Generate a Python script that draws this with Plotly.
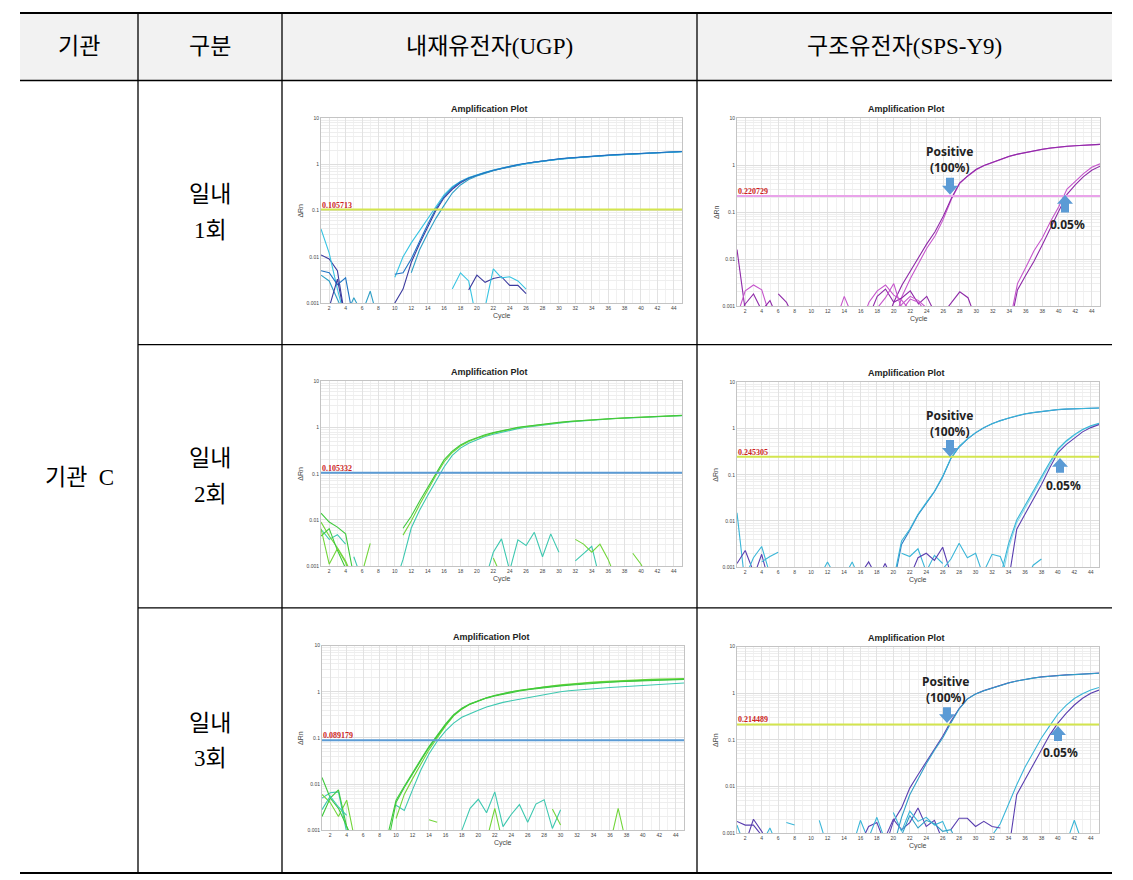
import math
import plotly.graph_objects as go

W, H = 1133, 880          # target window in pixels
OFF = 8                   # browser body margin around the plot div
FW, FH = W - OFF, H - OFF # figure size so that page content fits the window
N = None
CYCLES = list(range(1, 46))

# ---------------- Row 1 : UGP ----------------
r1u_navy = [0.011, 0.009, 0.005, 0.0004, N, N, N, N, 0.0004, 0.001, 0.002, 0.0075, 0.019, 0.045, 0.1, 0.19, 0.29, 0.4, 0.5, 0.58,
            0.66, 0.74, 0.82, 0.9, 0.98, 1.05, 1.12, 1.19, 1.25, 1.31, 1.36, 1.41, 1.45, 1.5, 1.54, 1.58, 1.62, 1.66, 1.69, 1.73,
            1.76, 1.8, 1.83, 1.86, 1.9]
r1u_cyan = [0.04, 0.012, 0.002, 0.0004, N, N, N, N, N, 0.0036, 0.01, 0.02, 0.037, 0.068, 0.125, 0.22, 0.33, 0.43, 0.52, 0.6,
            0.68, 0.76, 0.84, 0.91, 0.98, 1.05, 1.12, 1.18, 1.24, 1.3, 1.35, 1.4, 1.45, 1.49, 1.53, 1.57, 1.61, 1.65, 1.68, 1.72,
            1.75, 1.79, 1.82, 1.85, 1.88]
r1u_blue = [0.005, 0.0045, 0.0025, 0.0035, 0.0004, N, N, N, N, 0.0042, 0.0045, 0.009, 0.022, 0.05, 0.11, 0.2, 0.31, 0.42, 0.51, 0.59,
            0.67, 0.75, 0.83, 0.91, 0.99, 1.06, 1.13, 1.2, 1.26, 1.32, 1.37, 1.42, 1.46, 1.51, 1.55, 1.59, 1.63, 1.67, 1.7, 1.74,
            1.77, 1.81, 1.84, 1.87, 1.91]
r1u_teal = [0.004, 0.003, 0.0012, 0.0005, 0.0013, 0.0006, 0.0018, 0.0004, N, N, N, 0.0045, 0.014, 0.032, 0.068, 0.13, 0.24, 0.36, 0.47, 0.56,
            0.65, 0.73, 0.81, 0.89, 0.97, 1.04, 1.11, 1.18, 1.24, 1.3, 1.35, 1.4, 1.45, 1.49, 1.53, 1.57, 1.61, 1.65, 1.68, 1.72,
            1.76, 1.79, 1.83, 1.86, 1.89]
r1u_n1_x = [2, 3, 4];            r1u_n1_y = [0.0008, 0.0033, 0.0004]
r1u_n2_x = [17, 18, 19, 20];     r1u_n2_y = [0.002, 0.0045, 0.003, 0.0004]
r1u_n3_x = [19, 20, 21, 22, 23, 24, 25, 26]; r1u_n3_y = [0.0019, 0.004, 0.0028, 0.0034, 0.0037, 0.0024, 0.0024, 0.0016]
r1u_n4_x = [21, 22, 23, 24, 25, 26];         r1u_n4_y = [0.0008, 0.0055, 0.0035, 0.0037, 0.003, 0.002]

# ---------------- Row 1 : SPS-Y9 ----------------
r1s_pos_a = [N] * 18 + [0.0004, 0.0012, 0.0028, 0.0055, 0.011, 0.021, 0.038, 0.082, 0.2, 0.42, 0.6, 0.82, 1.0, 1.17, 1.36, 1.55,
                        1.72, 1.88, 2.03, 2.18, 2.32, 2.45, 2.53, 2.6, 2.67, 2.73, 2.78]
r1s_pos_b = [N] * 19 + [0.0004, 0.0016, 0.0038, 0.008, 0.017, 0.031, 0.07, 0.19, 0.41, 0.59, 0.8, 0.99, 1.16, 1.35, 1.54,
                        1.71, 1.87, 2.02, 2.17, 2.31, 2.44, 2.52, 2.59, 2.66, 2.72, 2.77]
r1s_low_a = [N] * 33 + [0.0004, 0.003, 0.0066, 0.015, 0.028, 0.063, 0.13, 0.31, 0.45, 0.66, 0.9, 1.07]
r1s_low_b = [N] * 33 + [0.0003, 0.0022, 0.0045, 0.009, 0.02, 0.045, 0.1, 0.24, 0.38, 0.57, 0.78, 0.95]
r1s_n1_x = [1, 2];                r1s_n1_y = [0.016, 0.0008]
r1s_n2_x = [1, 2, 3, 4, 5];       r1s_n2_y = [0.0006, 0.0021, 0.0028, 0.0022, 0.0006]
r1s_n3_x = [1, 2, 3, 4, 5, 6];    r1s_n3_y = [0.0005, 0.0011, 0.0018, 0.0008, 0.0013, 0.0005]
r1s_n4_x = [6, 7, 8];             r1s_n4_y = [0.0018, 0.0012, 0.0005]
r1s_n5_x = [13, 14, 15];          r1s_n5_y = [0.0005, 0.0016, 0.0006]
r1s_n6_x = [16, 17, 18, 19, 20, 21, 22]; r1s_n6_y = [0.0004, 0.0012, 0.0021, 0.0028, 0.0017, 0.0013, 0.0008]
r1s_n7_x = [17, 18, 19, 20, 21, 22, 23, 24, 25]; r1s_n7_y = [0.0006, 0.0016, 0.0023, 0.0012, 0.0015, 0.0021, 0.0011, 0.0016, 0.0007]
r1s_n8_x = [18, 19, 20, 21, 22, 23, 24]; r1s_n8_y = [0.0009, 0.0015, 0.003, 0.0008, 0.0014, 0.0012, 0.0007]
r1s_n9_x = [26, 27, 28, 29, 30];  r1s_n9_y = [0.0007, 0.0012, 0.002, 0.0015, 0.0005]
r1s_n10_x = [20, 21, 22, 23, 24, 25]; r1s_n10_y = [0.0006, 0.0011, 0.0016, 0.0013, 0.0009, 0.0005]

# ---------------- Row 2 : UGP ----------------
r2u_g1 = [0.014, 0.009, 0.007, 0.005, 0.0006, N, N, N, N, N, 0.0066, 0.012, 0.025, 0.05, 0.1, 0.2, 0.31, 0.42, 0.52, 0.61,
          0.7, 0.78, 0.86, 0.94, 1.01, 1.07, 1.13, 1.19, 1.25, 1.3, 1.35, 1.4, 1.44, 1.48, 1.52, 1.56, 1.6, 1.63, 1.66, 1.69,
          1.72, 1.75, 1.78, 1.81, 1.84]
r2u_g2 = [0.009, 0.0045, 0.0025, 0.0013, 0.0005, N, N, N, N, N, 0.0047, 0.0095, 0.021, 0.045, 0.092, 0.18, 0.29, 0.4, 0.5, 0.59,
          0.68, 0.76, 0.84, 0.92, 0.99, 1.05, 1.11, 1.17, 1.23, 1.29, 1.34, 1.39, 1.43, 1.47, 1.51, 1.55, 1.59, 1.62, 1.65, 1.68,
          1.71, 1.74, 1.77, 1.8, 1.83]
r2u_cyan = [0.0063, 0.0038, 0.0048, 0.003, N, N, N, N, N, 0.0004, 0.0014, 0.0067, 0.016, 0.034, 0.07, 0.14, 0.25, 0.36, 0.46, 0.55,
            0.64, 0.72, 0.8, 0.88, 0.95, 1.02, 1.08, 1.14, 1.2, 1.26, 1.31, 1.36, 1.41, 1.45, 1.49, 1.53, 1.57, 1.6, 1.64, 1.67,
            1.7, 1.73, 1.76, 1.79, 1.82]
r2u_n1_x = [1, 2, 3, 4];          r2u_n1_y = [0.0045, 0.0065, 0.0022, 0.0009]
r2u_n2_x = [1, 2, 3, 4, 5];       r2u_n2_y = [0.0065, 0.0011, 0.0024, 0.0012, 0.0004]
r2u_n3_x = [5, 6];                r2u_n3_y = [0.0016, 0.0005]
r2u_n4_x = [6, 7];                r2u_n4_y = [0.0007, 0.0031]
r2u_n5_x = [21, 22, 23, 24, 25, 26, 27, 28, 29, 30]; r2u_n5_y = [0.0005, 0.002, 0.0039, 0.0008, 0.0037, 0.0028, 0.0054, 0.0016, 0.005, 0.002]
r2u_n6_x = [22, 23];              r2u_n6_y = [0.0015, 0.0006]
r2u_n7_x = [32, 33, 34, 35];      r2u_n7_y = [0.0013, 0.0019, 0.0027, 0.0005]
r2u_n8_x = [32, 33, 34, 35, 36, 37]; r2u_n8_y = [0.0038, 0.003, 0.002, 0.003, 0.0014, 0.0005]
r2u_n9_x = [39, 40, 41];          r2u_n9_y = [0.0019, 0.0011, 0.0005]

# ---------------- Row 2 : SPS-Y9 ----------------
r2s_pos_cyan = [N] * 19 + [0.0005, 0.0037, 0.0066, 0.014, 0.025, 0.044, 0.093, 0.23, 0.41, 0.6, 0.82, 1.05, 1.28, 1.5, 1.69,
                           1.9, 2.1, 2.23, 2.35, 2.48, 2.6, 2.65, 2.7, 2.74, 2.77, 2.8]
r2s_pos_blue = [N] * 19 + [0.0004, 0.0031, 0.0063, 0.0135, 0.024, 0.043, 0.09, 0.225, 0.4, 0.59, 0.81, 1.04, 1.27, 1.49, 1.68,
                           1.89, 2.08, 2.22, 2.34, 2.47, 2.58, 2.64, 2.69, 2.73, 2.76, 2.79]
r2s_low_cyan = [N] * 32 + [0.0006, 0.0032, 0.0105, 0.021, 0.043, 0.09, 0.185, 0.36, 0.54, 0.74, 0.96, 1.15, 1.3]
r2s_low_light = [N] * 32 + [0.0004, 0.0026, 0.0092, 0.019, 0.04, 0.085, 0.175, 0.34, 0.52, 0.72, 0.94, 1.13, 1.28]
r2s_low_navy = [N] * 33 + [0.0005, 0.0066, 0.014, 0.029, 0.061, 0.14, 0.3, 0.45, 0.63, 0.85, 1.05, 1.22]
r2s_n1_x = [1, 2];                r2s_n1_y = [0.015, 0.0004]
r2s_n2_x = [1, 2, 3];             r2s_n2_y = [0.0012, 0.0023, 0.0008]
r2s_n3_x = [2, 3, 4, 5];          r2s_n3_y = [0.0006, 0.0016, 0.0028, 0.0007]
r2s_n4_x = [3, 4, 5];             r2s_n4_y = [0.0006, 0.0019, 0.0004]
r2s_n5_x = [4, 5, 6];             r2s_n5_y = [0.0013, 0.0017, 0.0021]
r2s_n6_x = [11, 12, 13];          r2s_n6_y = [0.0006, 0.0013, 0.0006]
r2s_n7_x = [14, 15, 16];          r2s_n7_y = [0.0006, 0.0013, 0.0005]
r2s_n8_x = [16, 17, 18];          r2s_n8_y = [0.0007, 0.0013, 0.0006]
r2s_n9_x = [18, 19, 20];          r2s_n9_y = [0.0005, 0.0012, 0.0005]
r2s_n10_x = [21, 22, 23, 24, 25, 26]; r2s_n10_y = [0.002, 0.0017, 0.0025, 0.0008, 0.0018, 0.0012]
r2s_n11_x = [22, 23, 24, 25, 26, 27]; r2s_n11_y = [0.0006, 0.0016, 0.002, 0.0014, 0.0027, 0.0007]
r2s_n12_x = [26, 27, 28, 29, 30, 31]; r2s_n12_y = [0.0009, 0.0015, 0.0033, 0.0016, 0.002, 0.0006]
r2s_n13_x = [31, 32, 33, 34];     r2s_n13_y = [0.0008, 0.0019, 0.0017, 0.0006]
r2s_n14_x = [36, 37, 38];         r2s_n14_y = [0.0005, 0.0011, 0.0015]

# ---------------- Row 3 : UGP ----------------
r3u_g1 = [0.014, 0.005, 0.003, 0.0012, 0.0005, N, N, N, 0.0008, 0.0045, 0.009, 0.018, 0.034, 0.065, 0.115, 0.2, 0.32, 0.44, 0.55, 0.65,
          0.74, 0.83, 0.92, 1.0, 1.07, 1.14, 1.2, 1.26, 1.32, 1.38, 1.43, 1.48, 1.53, 1.57, 1.61, 1.65, 1.68, 1.71, 1.74, 1.77,
          1.8, 1.82, 1.84, 1.86, 1.87]
r3u_g2 = [0.002, 0.005, 0.0075, 0.0012, 0.0004, N, N, N, 0.0005, 0.004, 0.0085, 0.017, 0.032, 0.062, 0.11, 0.19, 0.31, 0.43, 0.54, 0.64,
          0.73, 0.81, 0.89, 0.97, 1.04, 1.11, 1.17, 1.23, 1.29, 1.34, 1.39, 1.44, 1.49, 1.53, 1.57, 1.61, 1.65, 1.68, 1.71, 1.74,
          1.77, 1.8, 1.82, 1.84, 1.86]
r3u_g3 = [0.006, 0.004, 0.002, 0.0045, 0.0006, N, N, N, N, 0.0018, 0.006, 0.013, 0.027, 0.055, 0.1, 0.18, 0.3, 0.42, 0.54, 0.64,
          0.74, 0.83, 0.92, 1.0, 1.08, 1.15, 1.22, 1.29, 1.35, 1.41, 1.47, 1.52, 1.57, 1.62, 1.66, 1.7, 1.74, 1.77, 1.8, 1.83,
          1.86, 1.88, 1.9, 1.92, 1.94]
r3u_cyan = [0.005, 0.0065, 0.0068, 0.0009, N, N, N, N, N, 0.0035, 0.0027, 0.0075, 0.02, 0.045, 0.085, 0.14, 0.21, 0.28, 0.34, 0.4,
            0.47, 0.53, 0.59, 0.64, 0.69, 0.74, 0.8, 0.87, 0.93, 1.0, 1.05, 1.09, 1.14, 1.18, 1.21, 1.24, 1.27, 1.3, 1.33, 1.36,
            1.39, 1.42, 1.46, 1.5, 1.55]
r3u_n1_x = [17, 18, 19, 20, 21, 22, 23, 24, 25, 26, 27, 28, 29, 30]
r3u_n1_y = [0.0005, 0.001, 0.003, 0.0047, 0.0024, 0.0068, 0.0012, 0.0022, 0.0036, 0.0015, 0.0037, 0.0046, 0.0011, 0.0028]
r3u_n2_x = [21, 22, 23];          r3u_n2_y = [0.0006, 0.003, 0.0005]
r3u_n3_x = [29, 30];              r3u_n3_y = [0.0029, 0.0013]
r3u_n4_x = [36, 37, 38];          r3u_n4_y = [0.0005, 0.003, 0.0005]
r3u_n5_x = [14, 15];              r3u_n5_y = [0.0017, 0.0015]
r3u_n6_x = [1, 2, 3, 4];          r3u_n6_y = [0.0028, 0.0055, 0.0032, 0.0021]

# ---------------- Row 3 : SPS-Y9 ----------------
r3s_pos_navy = [N] * 18 + [0.0005, 0.0018, 0.0035, 0.0093, 0.018, 0.034, 0.066, 0.12, 0.25, 0.47, 0.76, 0.97, 1.14, 1.3, 1.48,
                           1.67, 1.84, 2.0, 2.12, 2.25, 2.35, 2.44, 2.48, 2.52, 2.58, 2.64, 2.7]
r3s_pos_teal = [N] * 19 + [0.0005, 0.0022, 0.0067, 0.015, 0.031, 0.06, 0.11, 0.23, 0.46, 0.75, 0.96, 1.13, 1.29, 1.47, 1.66,
                           1.83, 1.99, 2.11, 2.24, 2.34, 2.43, 2.47, 2.51, 2.57, 2.63, 2.69]
r3s_low_cyan = [N] * 31 + [0.0009, 0.0016, 0.0042, 0.011, 0.026, 0.055, 0.11, 0.2, 0.36, 0.55, 0.77, 0.98, 1.18, 1.33]
r3s_low_navy = [N] * 33 + [0.0004, 0.0067, 0.014, 0.029, 0.061, 0.127, 0.23, 0.37, 0.56, 0.78, 1.0, 1.17]
r3s_n1_x = [1, 2, 3, 4, 5];       r3s_n1_y = [0.0018, 0.0015, 0.0015, 0.0009, 0.0004]
r3s_n2_x = [2, 3, 4, 5];          r3s_n2_y = [0.0006, 0.002, 0.0011, 0.0005]
r3s_n3_x = [1, 2];                r3s_n3_y = [0.0015, 0.0005]
r3s_n4_x = [4, 5, 6];             r3s_n4_y = [0.0006, 0.0013, 0.0005]
r3s_n5_x = [7, 8];                r3s_n5_y = [0.0017, 0.0015]
r3s_n6_x = [11, 12];              r3s_n6_y = [0.0019, 0.0005]
r3s_n7_x = [15, 16, 17];          r3s_n7_y = [0.0005, 0.0019, 0.0007]
r3s_n8_x = [16, 17, 18, 19];      r3s_n8_y = [0.0006, 0.0014, 0.0017, 0.0006]
r3s_n9_x = [17, 18, 19];          r3s_n9_y = [0.0008, 0.0022, 0.0007]
r3s_n10_x = [19, 20, 21, 22, 23, 24, 25, 26]; r3s_n10_y = [0.0008, 0.002, 0.0012, 0.0017, 0.0035, 0.0014, 0.0019, 0.0007]
r3s_n11_x = [20, 21, 22, 23, 24, 25, 26, 27]; r3s_n11_y = [0.0028, 0.0011, 0.003, 0.0018, 0.0022, 0.0015, 0.0018, 0.0007]
r3s_n12_x = [27, 28, 29, 30, 31, 32, 33];     r3s_n12_y = [0.0012, 0.0021, 0.0021, 0.0014, 0.0018, 0.0014, 0.0013]
r3s_n13_x = [41, 42, 43];         r3s_n13_y = [0.0006, 0.0019, 0.0006]
r3s_n14_x = [21, 22, 23, 24, 25, 26, 27, 28]; r3s_n14_y = [0.0009, 0.0024, 0.0013, 0.0019, 0.0016, 0.0011, 0.0012, 0.0005]

THRESHOLDS = [0.105713, 0.220729, 0.105332, 0.245305, 0.089179, 0.214489]
THRESHOLD_TEXT = ["0.105713", "0.220729", "0.105332", "0.245305", "0.089179", "0.214489"]

HEADERS = ["기관", "구분", "내재유전자(UGP)", "구조유전자(SPS-Y9)"]
ORG_LABEL = "기관  C"
ROW_LINE1 = ["일내", "일내", "일내"]
ROW_LINE2 = ["1회", "2회", "3회"]
X_TICKS = list(range(2, 46, 2))
Y_TICKS = [0.001, 0.01, 0.1, 1, 10]
Y_TICK_TEXT = ["0.001", "0.01", "0.1", "1", "10"]

for arr in [r1u_navy, r1u_cyan, r1u_blue, r1u_teal, r1s_pos_a, r1s_pos_b, r1s_low_a, r1s_low_b,
            r2u_g1, r2u_g2, r2u_cyan, r2s_pos_cyan, r2s_pos_blue, r2s_low_cyan, r2s_low_light, r2s_low_navy,
            r3u_g1, r3u_g2, r3u_g3, r3u_cyan, r3s_pos_navy, r3s_pos_teal, r3s_low_cyan, r3s_low_navy]:
    assert len(arr) == 45, len(arr)

# ---------------- styling / layout ----------------
NAVY = "#3b3a9e"; BLUE = "#1f74c4"; CYAN = "#38c4e2"; TEAL = "#2f9fc6"
PURPLE = "#8f2aa8"; MAGENTA = "#c656cc"
GREEN = "#3fc93c"; LGREEN = "#72d53a"; GCYAN = "#3ec8b0"
SCYAN = "#3ab6d8"; SBLUE = "#2f7cc4"; SLIGHT = "#86d8ea"; SNAVY = "#5a3fb0"
YG = "#d3e54e"; PINK = "#e9a3ea"; TBLUE = "#5b9bd5"

panels = [
    dict(box=(321, 116, 682, 302), thr_color=YG,
         curves=[(CYCLES, r1u_navy, NAVY), (CYCLES, r1u_teal, TEAL), (CYCLES, r1u_cyan, CYAN), (CYCLES, r1u_blue, BLUE),
                 (r1u_n1_x, r1u_n1_y, NAVY), (r1u_n2_x, r1u_n2_y, CYAN), (r1u_n3_x, r1u_n3_y, NAVY), (r1u_n4_x, r1u_n4_y, CYAN)]),
    dict(box=(737, 116, 1100, 305), thr_color=PINK,
         curves=[(CYCLES, r1s_pos_b, MAGENTA), (CYCLES, r1s_pos_a, PURPLE), (CYCLES, r1s_low_a, MAGENTA), (CYCLES, r1s_low_b, PURPLE),
                 (r1s_n1_x, r1s_n1_y, PURPLE), (r1s_n2_x, r1s_n2_y, MAGENTA), (r1s_n3_x, r1s_n3_y, PURPLE),
                 (r1s_n4_x, r1s_n4_y, PURPLE), (r1s_n5_x, r1s_n5_y, MAGENTA), (r1s_n6_x, r1s_n6_y, MAGENTA),
                 (r1s_n7_x, r1s_n7_y, PURPLE), (r1s_n8_x, r1s_n8_y, MAGENTA), (r1s_n9_x, r1s_n9_y, PURPLE),
                 (r1s_n10_x, r1s_n10_y, MAGENTA)]),
    dict(box=(321, 381, 682, 567), thr_color=TBLUE,
         curves=[(CYCLES, r2u_cyan, GCYAN), (CYCLES, r2u_g2, LGREEN), (CYCLES, r2u_g1, GREEN),
                 (r2u_n1_x, r2u_n1_y, GREEN), (r2u_n2_x, r2u_n2_y, LGREEN), (r2u_n3_x, r2u_n3_y, GCYAN),
                 (r2u_n4_x, r2u_n4_y, LGREEN), (r2u_n5_x, r2u_n5_y, GCYAN), (r2u_n6_x, r2u_n6_y, LGREEN),
                 (r2u_n7_x, r2u_n7_y, GCYAN), (r2u_n8_x, r2u_n8_y, LGREEN), (r2u_n9_x, r2u_n9_y, LGREEN)]),
    dict(box=(737, 382, 1099, 568), thr_color=YG,
         curves=[(CYCLES, r2s_pos_blue, SBLUE), (CYCLES, r2s_pos_cyan, SCYAN), (CYCLES, r2s_low_light, SLIGHT),
                 (CYCLES, r2s_low_cyan, SCYAN), (CYCLES, r2s_low_navy, SNAVY),
                 (r2s_n1_x, r2s_n1_y, SCYAN), (r2s_n2_x, r2s_n2_y, SNAVY), (r2s_n3_x, r2s_n3_y, SCYAN),
                 (r2s_n4_x, r2s_n4_y, SNAVY), (r2s_n5_x, r2s_n5_y, SCYAN), (r2s_n6_x, r2s_n6_y, SCYAN),
                 (r2s_n7_x, r2s_n7_y, SCYAN), (r2s_n8_x, r2s_n8_y, SNAVY), (r2s_n9_x, r2s_n9_y, SNAVY),
                 (r2s_n10_x, r2s_n10_y, SCYAN), (r2s_n11_x, r2s_n11_y, SNAVY), (r2s_n12_x, r2s_n12_y, SCYAN),
                 (r2s_n13_x, r2s_n13_y, SCYAN), (r2s_n14_x, r2s_n14_y, SCYAN)]),
    dict(box=(322, 647, 684, 833), thr_color=TBLUE,
         curves=[(CYCLES, r3u_cyan, GCYAN), (CYCLES, r3u_g3, LGREEN), (CYCLES, r3u_g2, GREEN), (CYCLES, r3u_g1, GREEN),
                 (r3u_n1_x, r3u_n1_y, GCYAN), (r3u_n2_x, r3u_n2_y, LGREEN), (r3u_n3_x, r3u_n3_y, LGREEN),
                 (r3u_n4_x, r3u_n4_y, LGREEN), (r3u_n5_x, r3u_n5_y, LGREEN), (r3u_n6_x, r3u_n6_y, GCYAN)]),
    dict(box=(737, 648, 1099, 836), thr_color=YG,
         curves=[(CYCLES, r3s_pos_navy, SNAVY), (CYCLES, r3s_pos_teal, TEAL), (CYCLES, r3s_low_navy, SNAVY),
                 (CYCLES, r3s_low_cyan, SCYAN),
                 (r3s_n1_x, r3s_n1_y, SNAVY), (r3s_n2_x, r3s_n2_y, SNAVY), (r3s_n3_x, r3s_n3_y, SCYAN),
                 (r3s_n4_x, r3s_n4_y, SCYAN), (r3s_n5_x, r3s_n5_y, SCYAN), (r3s_n6_x, r3s_n6_y, SCYAN),
                 (r3s_n7_x, r3s_n7_y, SCYAN), (r3s_n8_x, r3s_n8_y, SNAVY), (r3s_n9_x, r3s_n9_y, SCYAN),
                 (r3s_n10_x, r3s_n10_y, SNAVY), (r3s_n11_x, r3s_n11_y, SCYAN), (r3s_n12_x, r3s_n12_y, SNAVY),
                 (r3s_n13_x, r3s_n13_y, SCYAN), (r3s_n14_x, r3s_n14_y, TEAL)]),
]


def px(x):
    return (x - OFF) / FW


def py(y):
    return 1 - (y - OFF) / FH


fig = go.Figure()
layout = dict(width=FW, height=FH, margin=dict(l=0, r=0, t=0, b=0), paper_bgcolor="white",
              plot_bgcolor="white", showlegend=False)
annotations = []
shapes = []

SANS = "Liberation Sans, Arial, sans-serif"
TABLE_FONT = "Liberation Serif, Noto Sans CJK KR, serif"
MINOR_Y = [k * 10 ** e for e in range(-3, 1) for k in range(2, 10)]

for i, p in enumerate(panels, 1):
    sfx = "" if i == 1 else str(i)
    x0, y0, x1, y1 = p["box"]
    layout["xaxis" + sfx] = dict(
        domain=[px(x0), px(x1)], anchor="y" + sfx, range=[1, 45], tickmode="array", tickvals=X_TICKS,
        tickfont=dict(family=SANS, size=5, color="#444"), ticks="", showgrid=True, gridcolor="#e2e2e2",
        gridwidth=1, zeroline=False, showline=True, linecolor="#c4c4c4", linewidth=1, mirror=True,
        minor=dict(tick0=1, dtick=1, showgrid=True, gridcolor="#f1f1f1"),
        fixedrange=True)
    layout["yaxis" + sfx] = dict(
        domain=[py(y1), py(y0)], anchor="x" + sfx, type="log", range=[-3, 1], tickmode="array",
        tickvals=Y_TICKS, ticktext=Y_TICK_TEXT, tickfont=dict(family=SANS, size=5, color="#444"), ticks="",
        showgrid=True, gridcolor="#dedede", zeroline=False, showline=True, linecolor="#c4c4c4",
        linewidth=1, mirror=True,
        minor=dict(tickvals=MINOR_Y, showgrid=True, gridcolor="#eeeeee"), fixedrange=True)

    for xs, ys, col in p["curves"]:
        fig.add_trace(go.Scatter(x=xs, y=ys, mode="lines", line=dict(color=col, width=1.1),
                                 xaxis="x" + sfx, yaxis="y" + sfx, hoverinfo="skip", connectgaps=False))
    thr = THRESHOLDS[i - 1]
    fig.add_trace(go.Scatter(x=[1, 45], y=[thr, thr], mode="lines", line=dict(color=p["thr_color"], width=2),
                             xaxis="x" + sfx, yaxis="y" + sfx, hoverinfo="skip"))
    annotations.append(dict(x=1, y=math.log10(thr), xref="x" + sfx, yref="y" + sfx, text="<b>" + THRESHOLD_TEXT[i - 1] + "</b>",
                            showarrow=False, xanchor="left", yanchor="bottom", yshift=-2, xshift=-1,
                            font=dict(family="Liberation Serif, serif", size=8, color="#cc1f1f")))
    cell_left = 282 if x0 < 697 else 697
    cx = (x0 + x1) / 2
    annotations.append(dict(x=px(cx - 12), y=py(y0 - 9), xref="paper", yref="paper", text="<b>Amplification Plot</b>",
                            showarrow=False, xanchor="center", yanchor="middle",
                            font=dict(family=SANS, size=9, color="#222")))
    annotations.append(dict(x=px(cx), y=py(y1 + 13), xref="paper", yref="paper", text="Cycle",
                            showarrow=False, xanchor="center", yanchor="middle",
                            font=dict(family=SANS, size=7, color="#444")))
    annotations.append(dict(x=px(cell_left + 19), y=py((y0 + y1) / 2), xref="paper", yref="paper", text="ΔRn",
                            showarrow=False, textangle=-90, xanchor="center", yanchor="middle",
                            font=dict(family=SANS, size=7, color="#444")))


def block_arrow(cx, y_tail, y_tip, color="#5b9bd5"):
    d = 1 if y_tip > y_tail else -1
    neck = y_tip - d * 9
    pts = [(cx - 4, y_tail), (cx + 4, y_tail), (cx + 4, neck), (cx + 8, neck), (cx, y_tip), (cx - 8, neck), (cx - 4, neck)]
    path = "M " + " L ".join(f"{px(a):.5f},{py(b):.5f}" for a, b in pts) + " Z"
    return dict(type="path", path=path, xref="paper", yref="paper", fillcolor=color, line=dict(width=0))


# arrows + labels on SPS-Y9 panels (pixel anchors)
ARROW_SETS = [
    dict(pos_txt=(949, 158), down=(950, 176, 193), up=(1065, 211, 193), low_txt=(1067, 223)),
    dict(pos_txt=(949, 423), down=(950, 440, 457), up=(1060, 473, 458), low_txt=(1063, 486)),
    dict(pos_txt=(945, 691), down=(947, 709, 725), up=(1058, 743, 728), low_txt=(1060, 755)),
]
LABEL_FONT = dict(family="Noto Sans, Liberation Sans, sans-serif", size=12, color="#222")
for a in ARROW_SETS:
    tx, ty = a["pos_txt"]
    annotations.append(dict(x=px(tx), y=py(ty), xref="paper", yref="paper", text="<b>Positive<br>(100%)</b>",
                            showarrow=False, xanchor="center", yanchor="middle", align="center", font=LABEL_FONT))
    lx, ly = a["low_txt"]
    annotations.append(dict(x=px(lx), y=py(ly), xref="paper", yref="paper", text="<b>0.05%</b>", showarrow=False,
                            xanchor="center", yanchor="middle", font=LABEL_FONT))
    shapes.append(block_arrow(*a["down"]))
    shapes.append(block_arrow(*a["up"]))

# ---------------- table ----------------
shapes.append(dict(type="rect", xref="paper", yref="paper", x0=px(20), x1=px(1112), y0=py(78), y1=py(10),
                   fillcolor="#f2f2f2", line=dict(width=0), layer="below"))


def hline(y, xa, xb, w=1.3):
    shapes.append(dict(type="line", xref="paper", yref="paper", x0=px(xa), x1=px(xb), y0=py(y), y1=py(y),
                       line=dict(color="black", width=w)))


def vline(x, ya, yb, w=1.3):
    shapes.append(dict(type="line", xref="paper", yref="paper", x0=px(x), x1=px(x), y0=py(ya), y1=py(yb),
                       line=dict(color="black", width=w)))


hline(10, 20, 1112, 2)
hline(78, 20, 1112, 1.3)
hline(344, 138, 1112)
hline(609, 138, 1112)
hline(876, 20, 1112, 2)
for xv in (138, 282, 697):
    vline(xv, 10, 876)

TFONT = dict(family=TABLE_FONT, size=23, color="black")
for text, xc in zip(HEADERS, (79, 210, 489, 904)):
    annotations.append(dict(x=px(xc), y=py(44), xref="paper", yref="paper", text=text, showarrow=False,
                            xanchor="center", yanchor="middle", font=TFONT))
annotations.append(dict(x=px(79), y=py(478), xref="paper", yref="paper", text=ORG_LABEL, showarrow=False,
                        xanchor="center", yanchor="middle", font=TFONT))
for k, yc in enumerate((193, 459, 725)):
    annotations.append(dict(x=px(210), y=py(yc), xref="paper", yref="paper", text=ROW_LINE1[k], showarrow=False,
                            xanchor="center", yanchor="middle", font=TFONT))
    annotations.append(dict(x=px(210), y=py(yc + 36), xref="paper", yref="paper", text=ROW_LINE2[k], showarrow=False,
                            xanchor="center", yanchor="middle", font=TFONT))

layout["annotations"] = annotations
layout["shapes"] = shapes
fig.update_layout(**layout)
fig.write_html("out.html")
